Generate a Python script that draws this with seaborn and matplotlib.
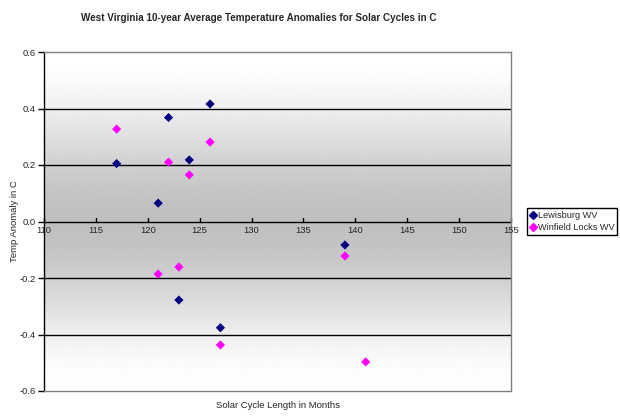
import numpy as np
import pandas as pd
import matplotlib
matplotlib.use("Agg")
import matplotlib.pyplot as plt
import seaborn as sns
from matplotlib.lines import Line2D

# ---- data ----
lewisburg_x = [117, 121, 122, 124, 126, 123, 127, 139]
lewisburg_y = [0.205, 0.065, 0.368, 0.218, 0.416, -0.278, -0.376, -0.083]
winfield_x = [117, 122, 124, 126, 121, 123, 127, 139, 141]
winfield_y = [0.327, 0.210, 0.165, 0.281, -0.186, -0.161, -0.437, -0.122, -0.497]
series_names = ["Lewisburg WV", "Winfield Locks WV"]
x_ticks = [110, 115, 120, 125, 130, 135, 140, 145, 150, 155]
y_ticks = [-0.6, -0.4, -0.2, 0.0, 0.2, 0.4, 0.6]
y_tick_labels = ["-0.6", "-0.4", "-0.2", "0.0", "0.2", "0.4", "0.6"]

df = pd.DataFrame({
    "x": lewisburg_x + winfield_x,
    "y": lewisburg_y + winfield_y,
    "series": [series_names[0]] * len(lewisburg_x) + [series_names[1]] * len(winfield_x),
})

sns.set_style("white")
plt.rcParams["font.family"] = ["Liberation Sans", "DejaVu Sans"]

fig = plt.figure(figsize=(6.2, 4.2), dpi=100)
ax = fig.add_axes([44 / 620, 1 - 391 / 420, (511 - 44) / 620, (391 - 52) / 420])

# gradient background
yy = np.linspace(0.6, -0.6, 400)
t = np.abs(yy) / 0.6
s = 3 * t ** 2 - 2 * t ** 3
val = (192 + 63 * s) / 255.0
img = np.repeat(val[:, None], 2, axis=1)
ax.imshow(img, cmap="gray", vmin=0, vmax=1, extent=[110, 155, -0.6, 0.6],
          aspect="auto", zorder=0, interpolation="bilinear")

ax.set_xlim(110, 155)
ax.set_ylim(-0.6, 0.6)

# gridlines
for g in [-0.4, -0.2, 0.2, 0.4]:
    ax.axhline(g, color="black", lw=1.0, zorder=1)

sns.scatterplot(data=df, x="x", y="y", hue="series",
                palette={series_names[0]: "#000080", series_names[1]: "#FF00FF"},
                marker="D", s=22, edgecolor="none", ax=ax, legend=False, zorder=3)

# spines
for side in ["top", "right", "bottom"]:
    ax.spines[side].set_color("#808080")
    ax.spines[side].set_linewidth(1.0)
ax.spines["left"].set_color("black")
ax.spines["left"].set_linewidth(1.0)

# x axis at y=0
ax.axhline(0, color="black", lw=1.0, zorder=2)
ax.set_xticks([])
for xv in x_ticks:
    ax.plot([xv, xv], [0, 0.012], color="black", lw=1.0, zorder=2, clip_on=False)
    ax.text(xv, -0.015, str(xv), ha="center", va="top", fontsize=6.8)

ax.set_yticks(y_ticks)
ax.set_yticklabels(y_tick_labels, fontsize=6.8)
ax.tick_params(axis="y", direction="out", length=4, width=1, color="black", pad=2, left=True)
ax.set_xlabel("")
ax.set_ylabel("")

fig.text(15 / 620, 1 - 221 / 420, "Temp Anomaly in C", rotation=90, ha="center", va="center", fontsize=6.8)
fig.text(278 / 620, 1 - 406 / 420, "Solar Cycle Length in Months", ha="center", va="center", fontsize=6.8)
fig.text(259 / 620, 1 - 18 / 420, "West Virginia 10-year Average Temperature Anomalies for Solar Cycles in C",
         ha="center", va="center", fontsize=7.1, fontweight="bold")

handles = [Line2D([], [], marker="D", color="#000080", ls="none", markersize=4.5),
           Line2D([], [], marker="D", color="#FF00FF", ls="none", markersize=4.5)]
leg = fig.legend(handles, series_names, loc="upper left", bbox_to_anchor=(527 / 620, 1 - 208 / 420),
                 fontsize=6.6, frameon=True, fancybox=False, edgecolor="black", framealpha=1,
                 borderpad=0.3, handlelength=0.6, handletextpad=0.3, labelspacing=0.4, borderaxespad=0)
leg.get_frame().set_linewidth(1.0)

fig.savefig("out.png", dpi=100)
